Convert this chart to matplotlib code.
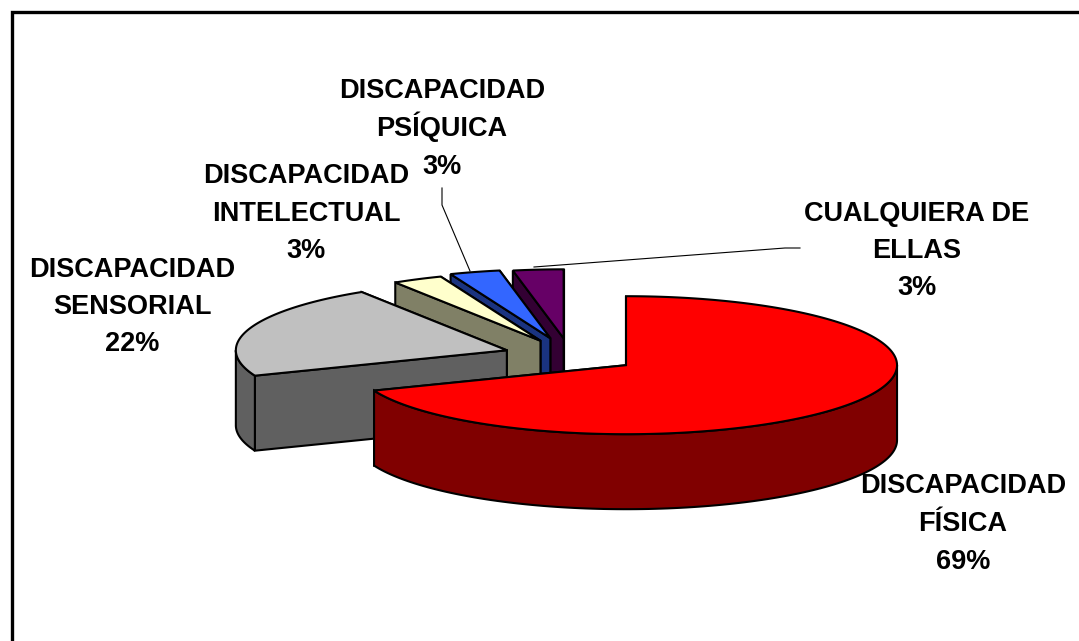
import matplotlib
matplotlib.use('Agg')
import matplotlib.pyplot as plt
import numpy as np

categories = [['DISCAPACIDAD', 'FÍSICA'], ['DISCAPACIDAD', 'SENSORIAL'], ['DISCAPACIDAD', 'INTELECTUAL'],
              ['DISCAPACIDAD', 'PSÍQUICA'], ['CUALQUIERA DE', 'ELLAS']]
values = [69, 22, 3, 3, 3]

top_colors = ['#FF0000', '#C0C0C0', '#FFFFCC', '#3366FF', '#660066']
side_colors = ['#800000', '#606060', '#808066', '#1A3380', '#330033']
explode = [0.25, 0.245, 0.24, 0.26, 0.25]
# label x centre and baseline of each of the three rows
label_x = [963, 132, 306, 442, 917]
label_y = [[493, 531, 569], [277, 314, 351], [183, 221, 258], [98, 136, 174], [221, 258, 295]]

# pie geometry in pixels
CX, CY = 570, 355.5
RX, RY = 271, 69
DEPTH = 75

plt.rcParams['font.family'] = ['Liberation Sans', 'DejaVu Sans']
fig = plt.figure(figsize=(10.79, 6.41), dpi=100)
ax = fig.add_axes([0, 0, 1, 1])
ax.set_xlim(0, 1079)
ax.set_ylim(641, 0)
ax.axis('off')

# frame only shows on top and left
ax.plot([11.5, 11.5, 1079], [641, 11.5, 11.5], color='black', lw=2.4, solid_joinstyle='miter', zorder=1)


def pt(cx, cy, a):
    # a in degrees clockwise from 12 o'clock
    r = np.radians(a)
    return cx + RX * np.sin(r), cy - RY * np.cos(r)


def face(xs, ys, color, z):
    ax.fill(xs, ys, facecolor=color, edgecolor='black', lw=1.5, joinstyle='miter', zorder=z)


shares = np.array(values) / sum(values) * 360
starts = np.concatenate([[0], np.cumsum(shares)[:-1]])

# back slices first, red goes on top
for i in [4, 3, 2, 1, 0]:
    a0 = starts[i]
    a1 = a0 + shares[i]
    mid = np.radians((a0 + a1) / 2)
    cx = CX + explode[i] * RX * np.sin(mid)
    cy = CY - explode[i] * RY * np.cos(mid)
    z = 10 + (4 - i) * 5

    # cut faces
    for a in [a1, a0]:
        x, y = pt(cx, cy, a)
        face([cx, x, x, cx], [cy, y, y + DEPTH, cy + DEPTH], side_colors[i], z)

    # outer rim, front half only
    lo, hi = max(a0, 90), min(a1, 270)
    if hi > lo:
        t = np.linspace(lo, hi, 120)
        x, y = pt(cx, cy, t)
        face(np.r_[x, x[::-1]], np.r_[y, y[::-1] + DEPTH], side_colors[i], z + 1)

    # top face
    t = np.linspace(a0, a1, 200)
    x, y = pt(cx, cy, t)
    face(np.r_[cx, x], np.r_[cy, y], top_colors[i], z + 2)

# leader lines
ax.plot([442, 442, 470], [188, 205, 271], color='black', lw=0.8, zorder=40)
ax.plot([534, 785, 800], [267, 248, 248], color='black', lw=0.8, zorder=5)

for i in range(len(categories)):
    rows = categories[i] + [f'{values[i]}%']
    for row, y in zip(rows, label_y[i]):
        ax.text(label_x[i], y, row, ha='center', va='baseline', fontsize=19.5,
                fontweight='bold', color='black', zorder=50)

fig.savefig('out.png', dpi=100)
